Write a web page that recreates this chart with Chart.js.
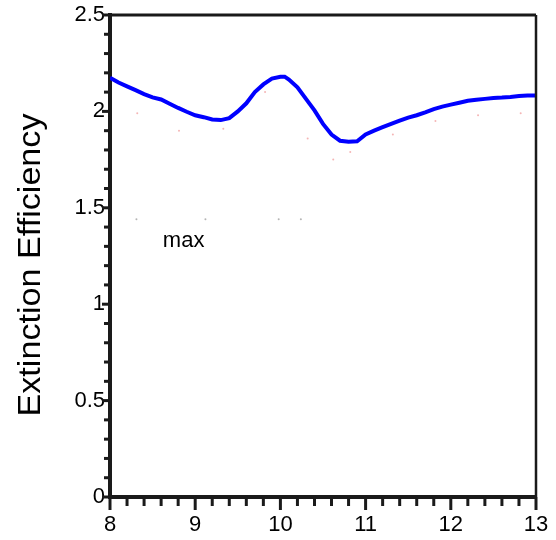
<!DOCTYPE html>
<html>
<head>
<meta charset="utf-8">
<script src="https://cdn.jsdelivr.net/npm/chart.js@4.4.1/dist/chart.umd.min.js"></script>
<style>
  html, body { margin: 0; padding: 0; background: #fff; }
  #wrap { width: 556px; height: 540px; }
</style>
</head>
<body>
<div id="wrap"><canvas id="grafico" width="556" height="540"></canvas></div>
<script>
// valores
const wavelength = [8.0, 8.1, 8.2, 8.3, 8.4, 8.5, 8.6, 8.7, 8.8, 8.9,
  9.0, 9.1, 9.2, 9.3, 9.4, 9.5, 9.6, 9.7, 9.8, 9.9,
  10.0, 10.05, 10.1, 10.2, 10.3, 10.4, 10.5, 10.6, 10.7, 10.8, 10.9,
  11.0, 11.1, 11.2, 11.3, 11.4, 11.5, 11.6, 11.7, 11.8, 11.9,
  12.0, 12.1, 12.2, 12.3, 12.4, 12.5, 12.6, 12.7, 12.8, 12.9, 13.0];
const extinction = [2.175, 2.150, 2.130, 2.110, 2.090, 2.073, 2.062, 2.040, 2.018, 1.998,
  1.980, 1.970, 1.958, 1.955, 1.965, 2.000, 2.042, 2.100, 2.140, 2.170,
  2.180, 2.180, 2.165, 2.125, 2.065, 2.005, 1.935, 1.880, 1.848, 1.843, 1.845,
  1.880, 1.900, 1.918, 1.935, 1.952, 1.968, 1.980, 1.995, 2.012, 2.025,
  2.035, 2.045, 2.055, 2.060, 2.065, 2.070, 2.072, 2.075, 2.080, 2.082, 2.082];

// pontinhos quase invisiveis
const pinkX = [8.32, 8.81, 9.33, 9.82, 10.32, 10.62, 10.82, 11.32, 11.82, 12.32, 12.82];
const pinkY = [1.99, 1.90, 1.91, 2.10, 1.86, 1.75, 1.79, 1.88, 1.95, 1.98, 1.99];
const grayX = [8.31, 9.12, 9.98, 10.24];
const grayY = [1.44, 1.44, 1.44, 1.44];

const xTicks = [8, 9, 10, 11, 12, 13];
const yTicks = [0, 0.5, 1, 1.5, 2, 2.5];

const tituloY = "Extinction Efficiency";
const anotacao = { text: "max", x: 8.62, y: 1.33 };

const pares = (xs, ys) => xs.map((x, i) => ({ x: x, y: ys[i] }));

const eixoCor = "#1a1a1a";

// ticks menores/maiores, bordas de cima/direita, titulo e "max"
const extras = {
  id: "extras",
  afterDraw(chart) {
    const { ctx, chartArea: a, scales } = chart;
    const sx = scales.x, sy = scales.y;
    ctx.save();
    ctx.strokeStyle = eixoCor;
    ctx.lineCap = "butt";
    // borda superior e direita
    ctx.lineWidth = 3;
    ctx.beginPath();
    ctx.moveTo(a.left, a.top);
    ctx.lineTo(a.right, a.top);
    ctx.stroke();
    ctx.lineWidth = 2.5;
    ctx.beginPath();
    ctx.moveTo(a.right, a.top);
    ctx.lineTo(a.right, a.bottom);
    ctx.stroke();

    ctx.lineWidth = 3;
    for (let i = 0; i <= 25; i++) {
      const v = i / 10;
      const py = sy.getPixelForValue(v);
      const len = i % 5 === 0 ? 8 : 6;
      ctx.beginPath();
      ctx.moveTo(a.left, py);
      ctx.lineTo(a.left - len, py);
      ctx.stroke();
    }
    for (let i = 0; i <= 25; i++) {
      const v = 8 + i / 5;
      const px = sx.getPixelForValue(v);
      const len = i % 5 === 0 ? 13 : 9;
      ctx.beginPath();
      ctx.moveTo(px, a.bottom);
      ctx.lineTo(px, a.bottom + len);
      ctx.stroke();
    }

    // titulo do eixo y
    ctx.fillStyle = "#000";
    ctx.font = "31px 'Liberation Sans', Arial, sans-serif";
    ctx.textAlign = "center";
    ctx.textBaseline = "middle";
    const w = ctx.measureText(tituloY).width;
    ctx.translate(31, 265);
    ctx.rotate(-Math.PI / 2);
    ctx.scale(303 / w, 1);
    ctx.fillText(tituloY, 0, 0);
    ctx.restore();

    ctx.save();
    ctx.fillStyle = "#000";
    ctx.font = "22px 'Liberation Sans', Arial, sans-serif";
    ctx.textAlign = "left";
    ctx.textBaseline = "middle";
    ctx.fillText(anotacao.text, sx.getPixelForValue(anotacao.x), sy.getPixelForValue(anotacao.y));
    ctx.restore();
  },
};

const ctx = document.getElementById("grafico").getContext("2d");

const grafico = new Chart(ctx, {
  type: "line",
  data: {
    datasets: [
      {
        data: pares(wavelength, extinction),
        borderColor: "#0000ff",
        borderWidth: 4,
        pointRadius: 0,
        tension: 0,
        order: 0,
      },
      {
        data: pares(pinkX, pinkY),
        showLine: false,
        pointRadius: 1,
        pointBorderWidth: 0,
        pointBackgroundColor: "rgba(240,150,150,0.7)",
        order: 1,
      },
      {
        data: pares(grayX, grayY),
        showLine: false,
        pointRadius: 1,
        pointBorderWidth: 0,
        pointBackgroundColor: "rgba(150,150,150,0.7)",
        order: 1,
      },
    ],
  },
  options: {
    responsive: false,
    animation: false,
    layout: { padding: { top: 15, right: 20, left: 0, bottom: 0 } },
    plugins: {
      legend: { display: false },
      tooltip: { enabled: false },
    },
    scales: {
      x: {
        type: "linear",
        min: 8,
        max: 13,
        afterBuildTicks: (s) => { s.ticks = xTicks.map((v) => ({ value: v })); },
        afterFit: (s) => { s.height = 43; s.paddingLeft = 0; s.paddingRight = 0; },
        grid: { display: false, drawTicks: false },
        border: { display: true, color: eixoCor, width: 4 },
        ticks: {
          padding: 15,
          color: "#000",
          font: { family: "'Liberation Sans', Arial, sans-serif", size: 22 },
          maxRotation: 0,
          callback: (v) => String(v),
        },
      },
      y: {
        type: "linear",
        min: 0,
        max: 2.5,
        afterBuildTicks: (s) => { s.ticks = yTicks.map((v) => ({ value: v })); },
        afterFit: (s) => { s.width = 110; s.paddingTop = 0; s.paddingBottom = 0; },
        grid: { display: false, drawTicks: false },
        border: { display: true, color: eixoCor, width: 4 },
        ticks: {
          padding: 5,
          color: "#000",
          font: { family: "'Liberation Sans', Arial, sans-serif", size: 22 },
          callback: (v) => String(v),
        },
      },
    },
  },
  plugins: [extras],
});
</script>
</body>
</html>
